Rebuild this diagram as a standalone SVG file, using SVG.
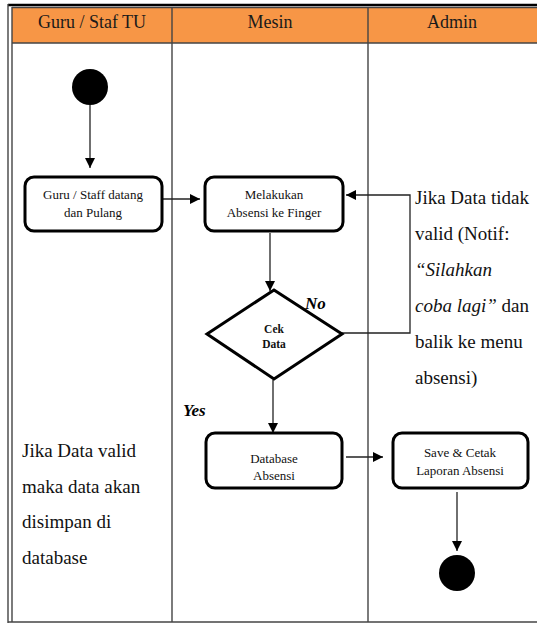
<svg xmlns="http://www.w3.org/2000/svg" width="537" height="624" viewBox="0 0 537 624">
<style>
text{font-family:'Liberation Serif',serif}
.hdr{font-size:18px;fill:#1a1a1a;text-anchor:middle}
.note{font-size:19px;fill:#111}
.it{font-style:italic}
.box{fill:#fff;stroke:#000;stroke-width:3}
.bt{font-size:13px;fill:#111;text-anchor:middle}
.cek{font-size:11.5px;font-weight:bold;fill:#111;text-anchor:middle}
.lbl{font-size:17px;font-weight:bold;font-style:italic;fill:#000}
.con{fill:none;stroke:#222;stroke-width:1.3}
.grid{stroke:#444;stroke-width:1.4;fill:none}
</style>
<defs>
<marker id="ah" viewBox="0 0 10 10" refX="10" refY="5" markerWidth="10" markerHeight="10" markerUnits="userSpaceOnUse" orient="auto">
<path d="M0,0 L10,5 L0,10 z" fill="#000"/>
</marker>
</defs>
<g id="frame">
<rect x="12" y="7" width="525" height="36" fill="#F79646"/>
<line x1="8" y1="5" x2="537" y2="5" stroke="#000" stroke-width="2.5"/>
<line x1="12" y1="7.5" x2="537" y2="7.5" class="grid"/>
<line x1="12" y1="43" x2="537" y2="43" class="grid"/>
<line x1="8" y1="4" x2="8" y2="623" class="grid"/>
<line x1="12" y1="7" x2="12" y2="622" class="grid"/>
<line x1="172" y1="7" x2="172" y2="622" class="grid"/>
<line x1="368" y1="7" x2="368" y2="622" class="grid"/>
<line x1="8" y1="622" x2="537" y2="622" class="grid"/>
<text class="hdr" x="92" y="28">Guru / Staf TU</text>
<text class="hdr" x="270" y="28">Mesin</text>
<text class="hdr" x="452" y="28">Admin</text>
</g>
<g id="connectors">
<line class="con" x1="90" y1="105" x2="90" y2="168" marker-end="url(#ah)"/>
<line class="con" x1="162" y1="199" x2="200" y2="199" marker-end="url(#ah)"/>
<line class="con" x1="270" y1="233" x2="270" y2="291" marker-end="url(#ah)"/>
<polyline class="con" points="341,333 410,333 410,195 346,195" marker-end="url(#ah)"/>
<line class="con" x1="273" y1="380" x2="273" y2="433" marker-end="url(#ah)"/>
<line class="con" x1="346" y1="457" x2="383" y2="457" marker-end="url(#ah)"/>
<line class="con" x1="457" y1="492" x2="457" y2="551" marker-end="url(#ah)"/>
</g>
<g id="start"><circle cx="90" cy="87" r="18" fill="#000"/></g>
<g id="datang">
<rect class="box" x="25" y="177" width="137" height="54" rx="9"/>
<text class="bt" x="93" y="199">Guru / Staff datang</text>
<text class="bt" x="93" y="217">dan Pulang</text>
</g>
<g id="absensi">
<rect class="box" x="205" y="177" width="138" height="54" rx="9"/>
<text class="bt" x="274" y="199">Melakukan</text>
<text class="bt" x="274" y="217">Absensi ke Finger</text>
</g>
<g id="cek">
<polygon points="274,290 342,334 274,379 207,334" fill="#fff" stroke="#000" stroke-width="3" stroke-linejoin="miter"/>
<text class="cek" x="274" y="333">Cek</text>
<text class="cek" x="274" y="348">Data</text>
</g>
<g id="labels">
<text class="lbl" x="305" y="309">No</text>
<text class="lbl" x="183" y="416">Yes</text>
</g>
<g id="database">
<rect class="box" x="206" y="433" width="136" height="55" rx="9"/>
<text class="bt" x="274" y="463">Database</text>
<text class="bt" x="274" y="480">Absensi</text>
</g>
<g id="cetak">
<rect class="box" x="393" y="433" width="135" height="55" rx="9"/>
<text class="bt" x="460" y="457">Save &amp; Cetak</text>
<text class="bt" x="460" y="475">Laporan Absensi</text>
</g>
<g id="end"><circle cx="457" cy="573" r="18" fill="#000"/></g>
<g id="note-left">
<text class="note" x="22" y="457">Jika Data valid</text>
<text class="note" x="22" y="493">maka data akan</text>
<text class="note" x="22" y="528">disimpan di</text>
<text class="note" x="22" y="564">database</text>
</g>
<g id="note-right">
<text class="note" x="415" y="204">Jika Data tidak</text>
<text class="note" x="415" y="240">valid (Notif:</text>
<text class="note it" x="415" y="276">“Silahkan</text>
<text class="note" x="415" y="312"><tspan class="it">coba lagi”</tspan> dan</text>
<text class="note" x="415" y="348">balik ke menu</text>
<text class="note" x="415" y="384">absensi)</text>
</g>
</svg>
